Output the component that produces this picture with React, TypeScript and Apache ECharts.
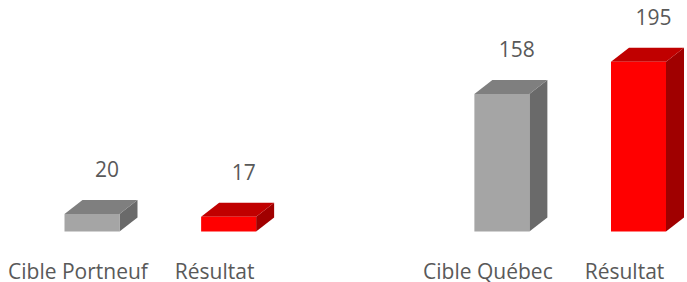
import React, { useEffect, useRef } from "react";
import * as echarts from "echarts";

const categories = ["Cible Portneuf", "Résultat", "", "Cible Québec", "Résultat"];
const cibleValues: [number, number][] = [
  [0, 20],
  [3, 158],
];
const resultatValues: [number, number][] = [
  [1, 17],
  [4, 195],
];

const FONT = "'Open Sans', sans-serif";
const TEXT_COLOR = "#595959";

function makeRender(front: string, topC: string, side: string) {
  return (params: any, api: any) => {
    const xi = api.value(0);
    const v = api.value(1);
    const base = api.coord([xi, 0]);
    const top = api.coord([xi, v]);
    const cx = base[0];
    const hw = 27.5;
    const dx = 18;
    const dy = -14;
    const ty = top[1];
    const by = base[1];
    return {
      type: "group",
      children: [
        {
          type: "polygon",
          shape: {
            points: [
              [cx + hw, ty],
              [cx + hw + dx, ty + dy],
              [cx + hw + dx, by + dy],
              [cx + hw, by],
            ],
          },
          style: { fill: side },
        },
        {
          type: "polygon",
          shape: {
            points: [
              [cx - hw, ty],
              [cx + hw, ty],
              [cx + hw + dx, ty + dy],
              [cx - hw + dx, ty + dy],
            ],
          },
          style: { fill: topC },
        },
        {
          type: "rect",
          shape: { x: cx - hw, y: ty, width: hw * 2, height: by - ty },
          style: { fill: front },
        },
        {
          type: "text",
          x: cx + 15,
          y: ty - 45,
          style: {
            text: String(v),
            fill: TEXT_COLOR,
            font: `21px ${FONT}`,
            align: "center",
            verticalAlign: "middle",
          },
        },
      ],
    };
  };
}

export default function App() {
  const ref = useRef<HTMLDivElement>(null);
  useEffect(() => {
    document.body.style.margin = "0";
    if (!ref.current) return;
    const chart = echarts.init(ref.current, null, { renderer: "svg" });
    chart.setOption({
      animation: false,
      backgroundColor: "#ffffff",
      grid: {
        left: 92,
        right: 48.5,
        top: 57.5,
        bottom: 50.5,
        outerBoundsMode: "none",
        containLabel: false,
      },
      xAxis: {
        type: "category",
        data: categories,
        boundaryGap: false,
        axisLine: { show: false },
        axisTick: { show: false },
        splitLine: { show: false },
        axisLabel: {
          interval: 0,
          margin: 29,
          lineHeight: 21,
          padding: [0, 28, 0, 0],
          color: TEXT_COLOR,
          fontFamily: FONT,
          fontSize: 21,
        },
      },
      yAxis: {
        type: "value",
        min: 0,
        max: 200,
        show: false,
        splitLine: { show: false },
      },
      series: [
        {
          type: "custom",
          name: "Cible",
          data: cibleValues,
          encode: { x: 0, y: 1 },
          clip: false,
          renderItem: makeRender("#A5A5A5", "#7F7F7F", "#6A6A6A"),
        },
        {
          type: "custom",
          name: "Résultat",
          data: resultatValues,
          encode: { x: 0, y: 1 },
          clip: false,
          renderItem: makeRender("#FF0000", "#C00000", "#A00000"),
        },
      ],
    });
    return () => chart.dispose();
  }, []);
  return <div ref={ref} style={{ width: 687, height: 282 }} />;
}
